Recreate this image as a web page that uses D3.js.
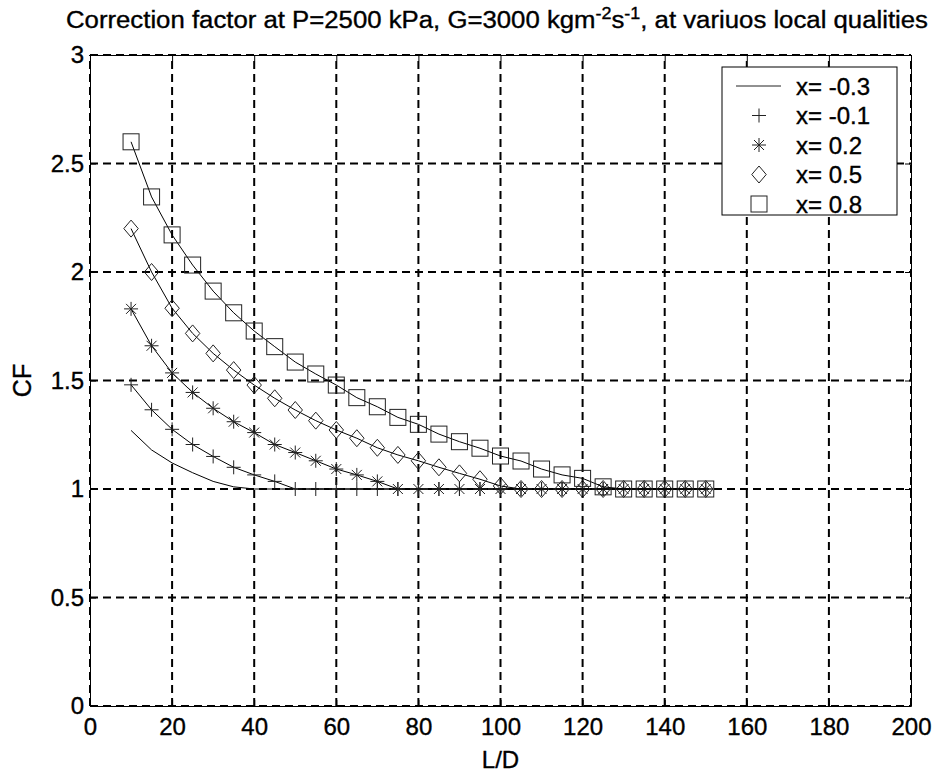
<!DOCTYPE html>
<html>
<head>
<meta charset="utf-8">
<script src="https://cdn.jsdelivr.net/npm/d3@7"></script>
<style>
  body { margin: 0; background: #fff; }
  text { font-family: "Liberation Sans", Arial, sans-serif; fill: #000; stroke: #000; stroke-width: 0.35; }
</style>
</head>
<body>
<div id="chart"></div>
<script>
// L/D positions of the computed points
var ldValues = [10, 15, 20, 25, 30, 35, 40, 45, 50, 55, 60, 65, 70, 75, 80,
    85, 90, 95, 100, 105, 110, 115, 120, 125, 130, 135, 140, 145, 150];

// correction factor per local quality
var cfMinus03 = [1.27, 1.18, 1.12, 1.075, 1.035, 1.01, 1, 1, 1, 1, 1, 1, 1, 1, 1,
    1, 1, 1, 1, 1, 1, 1, 1, 1, 1, 1, 1, 1, 1];
var cfMinus01 = [1.48, 1.365, 1.275, 1.205, 1.15, 1.10, 1.065, 1.035, 1, 1, 1, 1, 1, 1, 1,
    1, 1, 1, 1, 1, 1, 1, 1, 1, 1, 1, 1, 1, 1];
var cf02 = [1.83, 1.66, 1.535, 1.445, 1.372, 1.31, 1.26, 1.205, 1.168, 1.13, 1.092, 1.065, 1.035, 1, 1,
    1, 1, 1, 1, 1, 1, 1, 1, 1, 1, 1, 1, 1, 1];
var cf05 = [2.2, 2.0, 1.833, 1.717, 1.625, 1.548, 1.479, 1.418, 1.364, 1.315, 1.272, 1.234, 1.19, 1.157, 1.13,
    1.10, 1.072, 1.045, 1.014, 1, 1, 1, 1, 1, 1, 1, 1, 1, 1];
var cf08 = [2.6, 2.346, 2.171, 2.032, 1.912, 1.812, 1.728, 1.656, 1.585, 1.53, 1.479, 1.421, 1.379, 1.33, 1.298,
    1.253, 1.218, 1.188, 1.152, 1.129, 1.092, 1.065, 1.049, 1.01, 1, 1, 1, 1, 1];

var seriesNames = ["x= -0.3", "x= -0.1", "x= 0.2", "x= 0.5", "x= 0.8"];
var seriesMarkers = ["none", "plus", "star", "diamond", "square"];
var seriesValues = [cfMinus03, cfMinus01, cf02, cf05, cf08];

var xTicks = [0, 20, 40, 60, 80, 100, 120, 140, 160, 180, 200];
var yTicks = [0, 0.5, 1, 1.5, 2, 2.5, 3];

var width = 937, height = 774;
var margin = { top: 55, right: 26, bottom: 68, left: 90 };

var svg = d3.select("#chart").append("svg")
    .attr("width", width)
    .attr("height", height);

var x = d3.scaleLinear().domain([0, 200]).range([margin.left, width - margin.right]);
var y = d3.scaleLinear().domain([0, 3]).range([height - margin.bottom, margin.top]);

// dashed grid
var grid = svg.append("g")
    .attr("stroke", "#000")
    .attr("stroke-width", 2)
    .attr("stroke-dasharray", "8,5");
grid.selectAll(".gx").data(xTicks).enter().append("line")
    .attr("x1", function (d) { return x(d); })
    .attr("x2", function (d) { return x(d); })
    .attr("y1", y(0)).attr("y2", y(3));
grid.selectAll(".gy").data(yTicks).enter().append("line")
    .attr("y1", function (d) { return y(d); })
    .attr("y2", function (d) { return y(d); })
    .attr("x1", x(0)).attr("x2", x(200));

// axes (box with inward ticks)
function styleLabels(g) {
    g.selectAll("text")
        .attr("font-size", 24)
        .attr("font-family", "Liberation Sans, Arial, sans-serif");
}
svg.append("g")
    .attr("transform", "translate(0," + y(0) + ")")
    .call(d3.axisBottom(x).tickValues(xTicks).tickSizeInner(-6).tickSizeOuter(0).tickPadding(12))
    .call(styleLabels);
svg.append("g")
    .attr("transform", "translate(0," + y(3) + ")")
    .call(d3.axisTop(x).tickValues(xTicks).tickSizeInner(-6).tickSizeOuter(0).tickFormat(""));
svg.append("g")
    .attr("transform", "translate(" + x(0) + ",0)")
    .call(d3.axisLeft(y).tickValues(yTicks).tickSizeInner(-6).tickSizeOuter(0).tickPadding(6)
        .tickFormat(function (d) { return d; }))
    .call(styleLabels);
svg.append("g")
    .attr("transform", "translate(" + x(200) + ",0)")
    .call(d3.axisRight(y).tickValues(yTicks).tickSizeInner(-6).tickSizeOuter(0).tickFormat(""));
svg.selectAll(".domain").attr("stroke-width", 1);

// marker shapes
function drawMarker(g, type, cx, cy) {
    var s;
    if (type === "plus") {
        s = 7;
        g.append("path").attr("d", "M" + (cx - s) + "," + cy + "H" + (cx + s) + "M" + cx + "," + (cy - s) + "V" + (cy + s));
    } else if (type === "star") {
        s = 7;
        var d = 5;
        g.append("path").attr("d",
            "M" + (cx - s) + "," + cy + "H" + (cx + s) +
            "M" + cx + "," + (cy - s) + "V" + (cy + s) +
            "M" + (cx - d) + "," + (cy - d) + "L" + (cx + d) + "," + (cy + d) +
            "M" + (cx - d) + "," + (cy + d) + "L" + (cx + d) + "," + (cy - d));
    } else if (type === "diamond") {
        s = 8.5;
        g.append("path").attr("d",
            "M" + cx + "," + (cy - s) + "L" + (cx + s * 0.85) + "," + cy + "L" + cx + "," + (cy + s) +
            "L" + (cx - s * 0.85) + "," + cy + "Z").attr("fill", "none");
    } else if (type === "square") {
        s = 8;
        g.append("rect").attr("x", cx - s).attr("y", cy - s).attr("width", 2 * s).attr("height", 2 * s)
            .attr("fill", "none");
    }
}

// series
var line = d3.line()
    .x(function (d) { return x(d[0]); })
    .y(function (d) { return y(d[1]); });

seriesValues.forEach(function (vals, i) {
    var pts = ldValues.map(function (ld, j) { return [ld, vals[j]]; });
    svg.append("path")
        .datum(pts)
        .attr("d", line)
        .attr("fill", "none")
        .attr("stroke", "#000")
        .attr("stroke-width", 1);
    var mg = svg.append("g").attr("stroke", "#222").attr("stroke-width", 1).attr("fill", "none");
    if (seriesMarkers[i] !== "none") {
        pts.forEach(function (p) { drawMarker(mg, seriesMarkers[i], x(p[0]), y(p[1])); });
    }
});

// legend
var legend = svg.append("g");
legend.append("rect")
    .attr("x", 722).attr("y", 67).attr("width", 175).attr("height", 148)
    .attr("fill", "#fff").attr("stroke", "#000").attr("stroke-width", 1);
seriesNames.forEach(function (name, i) {
    var ly = 86 + i * 29.5;
    var g = legend.append("g").attr("stroke", "#222").attr("stroke-width", 1).attr("fill", "none");
    if (seriesMarkers[i] === "none") {
        g.append("line").attr("x1", 736).attr("x2", 781).attr("y1", ly).attr("y2", ly);
    } else {
        drawMarker(g, seriesMarkers[i], 759, ly);
    }
    legend.append("text")
        .attr("x", 796).attr("y", ly + 8.5)
        .attr("font-size", 24)
        .text(name);
});

// title
var title = svg.append("text")
    .attr("x", 497).attr("y", 28)
    .attr("text-anchor", "middle")
    .attr("font-size", 23)
    .attr("textLength", 862)
    .attr("lengthAdjust", "spacingAndGlyphs");
title.append("tspan").text("Correction factor at P=2500 kPa, G=3000 kgm");
title.append("tspan").attr("dy", -9).attr("font-size", 16).text("-2");
title.append("tspan").attr("dy", 9).text("s");
title.append("tspan").attr("dy", -9).attr("font-size", 16).text("-1");
title.append("tspan").attr("dy", 9).text(", at variuos local qualities");

// axis labels
svg.append("text")
    .attr("x", x(100)).attr("y", 768)
    .attr("text-anchor", "middle")
    .attr("font-size", 24)
    .text("L/D");
svg.append("text")
    .attr("transform", "translate(31," + y(1.5) + ") rotate(-90)")
    .attr("text-anchor", "middle")
    .attr("font-size", 25)
    .text("CF");
</script>
</body>
</html>
